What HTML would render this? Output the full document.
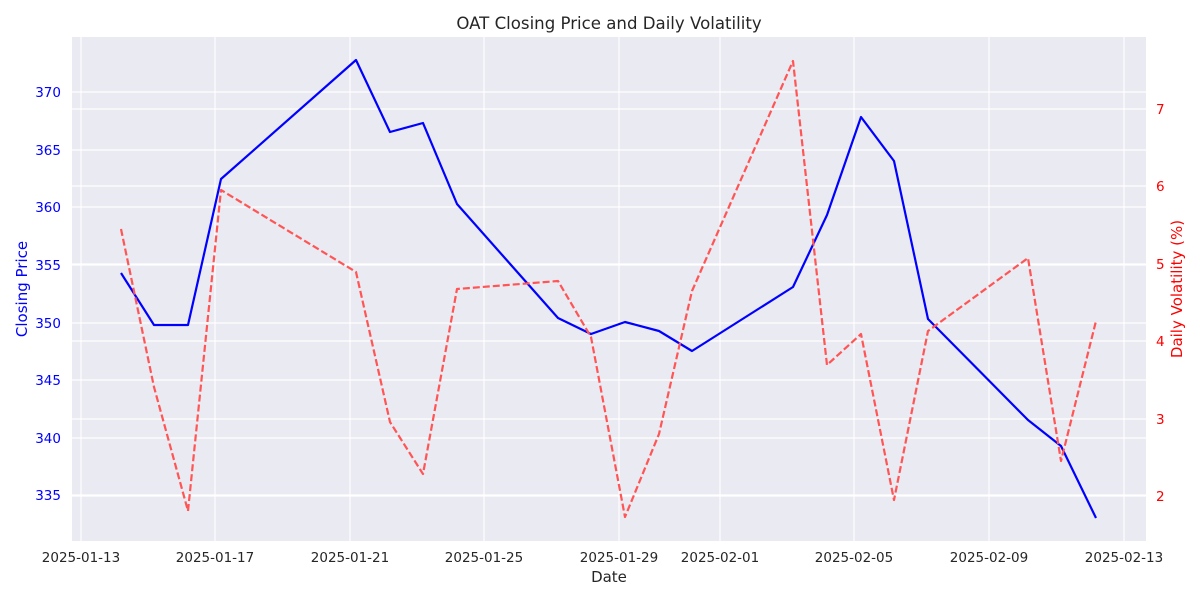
<!DOCTYPE html>
<html><head><meta charset="utf-8"><style>body{margin:0;background:#fff}svg{display:block}text{font-family:"DejaVu Sans","Liberation Sans",sans-serif}</style></head>
<body>
<svg width="1200" height="600" viewBox="0 0 1200 600" xmlns="http://www.w3.org/2000/svg">
<rect x="72" y="37" width="1074" height="504" fill="#eaeaf2"/>
<g stroke="#fff" stroke-width="1.2">
<line x1="81" y1="37" x2="81" y2="541"/><line x1="215" y1="37" x2="215" y2="541"/><line x1="350" y1="37" x2="350" y2="541"/><line x1="484" y1="37" x2="484" y2="541"/><line x1="619" y1="37" x2="619" y2="541"/><line x1="720" y1="37" x2="720" y2="541"/><line x1="854" y1="37" x2="854" y2="541"/><line x1="989" y1="37" x2="989" y2="541"/><line x1="1124" y1="37" x2="1124" y2="541"/>
<line x1="72" y1="495" x2="1146" y2="495"/><line x1="72" y1="438" x2="1146" y2="438"/><line x1="72" y1="380" x2="1146" y2="380"/><line x1="72" y1="323" x2="1146" y2="323"/><line x1="72" y1="265" x2="1146" y2="265"/><line x1="72" y1="207" x2="1146" y2="207"/><line x1="72" y1="150" x2="1146" y2="150"/><line x1="72" y1="92" x2="1146" y2="92"/>
<line x1="72" y1="496" x2="1146" y2="496"/><line x1="72" y1="419" x2="1146" y2="419"/><line x1="72" y1="341" x2="1146" y2="341"/><line x1="72" y1="264" x2="1146" y2="264"/><line x1="72" y1="186" x2="1146" y2="186"/><line x1="72" y1="109" x2="1146" y2="109"/>
</g>
<polyline fill="none" stroke="#0000ff" stroke-width="2.2" stroke-linejoin="round" points="121,273 154,325 188,325 221,179 356,60 390,132 423,123 457,204 558,318 591,334 625,322 659,331 692,351 793,287 827,215 861,117 894,161 928,319 1028,420 1061,446 1096,518"/>
<polyline fill="none" stroke="#ff5555" stroke-width="2.2" stroke-dasharray="7,3" stroke-linejoin="round" points="121,229 154,387 188,511 221,190 356,272 390,422 423,474 457,289 558,281 591,337 625,517 659,434 692,291 793,61 827,365 861,334 894,500 928,331 1028,258 1061,461 1096,321"/>
<g font-size="13.5" fill="#0000ff" text-anchor="end">
<text x="61" y="500">335</text><text x="61" y="443">340</text><text x="61" y="385">345</text><text x="61" y="328">350</text><text x="61" y="270">355</text><text x="61" y="212">360</text><text x="61" y="155">365</text><text x="61" y="97">370</text>
</g>
<g font-size="13.5" fill="#ff0000">
<text x="1156" y="501">2</text><text x="1156" y="424">3</text><text x="1156" y="346">4</text><text x="1156" y="269">5</text><text x="1156" y="191">6</text><text x="1156" y="114">7</text>
</g>
<g font-size="13.5" fill="#262626" text-anchor="middle">
<text x="81" y="562">2025-01-13</text><text x="215" y="562">2025-01-17</text><text x="350" y="562">2025-01-21</text><text x="484" y="562">2025-01-25</text><text x="619" y="562">2025-01-29</text><text x="720" y="562">2025-02-01</text><text x="854" y="562">2025-02-05</text><text x="989" y="562">2025-02-09</text><text x="1124" y="562">2025-02-13</text>
</g>
<text x="609" y="582" font-size="15" fill="#262626" text-anchor="middle">Date</text>
<text x="609" y="29" font-size="16.6" fill="#262626" text-anchor="middle">OAT Closing Price and Daily Volatility</text>
<text transform="translate(27,289) rotate(-90)" font-size="15" fill="#0000ff" text-anchor="middle">Closing Price</text>
<text transform="translate(1182,289) rotate(-90)" font-size="15" fill="#ff0000" text-anchor="middle">Daily Volatility (%)</text>
</svg>
</body></html>
